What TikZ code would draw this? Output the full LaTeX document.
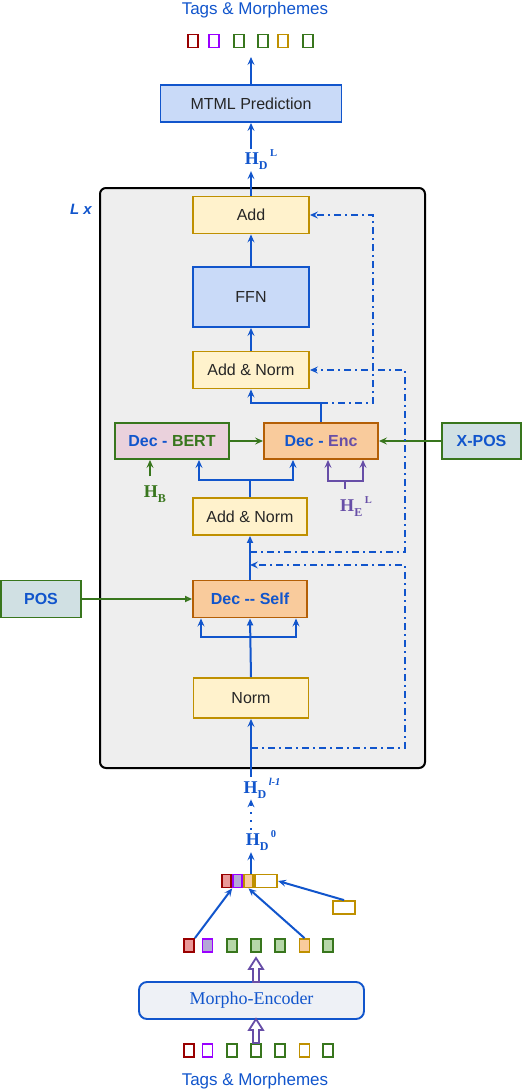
\documentclass[tikz,border=0pt]{standalone}
\usepackage{fontspec}
\setmainfont{Liberation Sans}
\newfontfamily\timesf{Liberation Serif}
\usetikzlibrary{arrows.meta}

\definecolor{dblue}{HTML}{1155CC}
\definecolor{lblue}{HTML}{C9DAF8}
\definecolor{dgreen}{HTML}{38761D}
\definecolor{lgreen}{HTML}{B6D7A8}
\definecolor{dred}{HTML}{990000}
\definecolor{lred}{HTML}{EA9999}
\definecolor{vio}{HTML}{9900FF}
\definecolor{lvio}{HTML}{B4A7D6}
\definecolor{gold}{HTML}{BF9000}
\definecolor{lgold}{HTML}{FFF2CC}
\definecolor{dorange}{HTML}{B45F06}
\definecolor{lorange}{HTML}{F9CB9C}
\definecolor{lpink}{HTML}{EAD1DC}
\definecolor{slate}{HTML}{D0E0E3}
\definecolor{epurple}{HTML}{674EA7}
\definecolor{panel}{HTML}{EEEEEE}
\definecolor{encfill}{HTML}{EEF1F6}

\newcommand{\hlab}[2]{{\timesf\bfseries\fontsize{18}{18}\selectfont H\raisebox{-5pt}{\fontsize{12}{12}\selectfont #1}\hspace{2.5pt}\raisebox{8pt}{\fontsize{10.5}{10.5}\selectfont #2}}}

\begin{document}
\begin{tikzpicture}[x=1pt, y=-1pt,
  every node/.style = {font=\fontsize{16}{19}\selectfont, inner sep=1pt}]
    \tikzstyle{block}=[draw, line width=1.9pt, minimum width=116pt, minimum height=37pt, text=black!85]
    \tikzstyle{normbox}=[block, fill=lgold, draw=gold]
    \tikzstyle{sky}=[block, fill=lblue, draw=dblue]
    \tikzstyle{dec}=[block, fill=lorange, draw=dorange, minimum width=114pt, minimum height=36pt, text=dblue, font=\fontsize{16}{19}\selectfont\bfseries]
    \tikzstyle{tagin}=[dec, fill=slate, draw=dgreen]
    \tikzstyle{sq}=[draw, line width=1.8pt, minimum width=10pt, minimum height=13pt, inner sep=0pt]
    \tikzstyle{arr}=[draw=dblue, line width=2pt, -{Stealth[length=8pt,width=7pt,inset=3pt]}]
    \tikzstyle{garr}=[arr, draw=dgreen]
    \tikzstyle{parr}=[arr, draw=epurple]
    \tikzstyle{tri}=[draw=dblue, line width=2pt, -{Triangle[open,length=7pt,width=6pt]}]
    \tikzstyle{res}=[arr, line width=2pt, dash pattern=on 7pt off 4pt on 2pt off 4pt]
    \tikzstyle{hollow}=[draw=epurple, line width=1.8pt, fill=white, line join=miter]
  \useasboundingbox (0,0) rectangle (526,1090);

  \node[text=dblue, font=\fontsize{17}{20}\selectfont] (tagsout) at (255,10) {Tags \& Morphemes};
  \foreach \x/\c [count=\i] in {193/dred,214/vio,239/dgreen,263/dgreen,283/gold,308/dgreen}
    \node[sq, draw=\c] (top\i) at (\x,41) {};
  \coordinate (outtip) at (251,57);

  \node[sky, minimum width=181pt] (mtml) at (251,103.5) {MTML Prediction};
  \node[text=dblue] (hL) at (261,160) {\hlab{D}{L}};

  \node[draw, line width=2pt, rounded corners=6pt, fill=panel,
        minimum width=325pt, minimum height=580pt] (layer) at (262.5,478) {};
  \node[text=dblue, font=\fontsize{15}{18}\selectfont\bfseries\itshape] (lx) at (81,209) {L x};

  \node[normbox] (add) at (251,215) {Add};
  \node[sky, minimum height=60pt] (ffn) at (251,297) {FFN};
  \node[normbox] (an1) at (251,370) {Add \& Norm};
  \node[dec, fill=lpink, draw=dgreen] (bert) at (172,441) {\textcolor{dblue}{Dec -} \textcolor{dgreen}{BERT}};
  \node[dec] (enc) at (321,441) {\textcolor{dblue}{Dec -} \textcolor{epurple}{Enc}};
  \node[tagin, minimum width=79pt] (xpos) at (481.5,441) {X-POS};
  \node[text=dgreen] (hb) at (155,494) {{\timesf\bfseries\fontsize{18}{18}\selectfont H\raisebox{-5pt}{\fontsize{12}{12}\selectfont B}}};
  \node[text=epurple] (he) at (356,507) {\hlab{E}{L}};
  \node[normbox, minimum width=114pt] (an2) at (250,516.5) {Add \& Norm};
  \node[tagin, minimum width=80pt, minimum height=37pt] (pos) at (41,599) {POS};
  \node[dec, minimum height=37pt] (self) at (250,599) {Dec -{}- Self};
  \node[normbox, minimum width=115pt, minimum height=40pt] (norm) at (251,698) {Norm};

  \node[text=dblue] (hl1) at (262,788) {\hlab{D}{\textit{l-1}}};
  \node[text=dblue] (h0) at (261,841) {\hlab{D}{0}};

  \node[sq, draw=dred, fill=lred, minimum width=9.5pt] (c1) at (226.5,881) {};
  \node[sq, draw=vio, fill=lvio, minimum width=9.5pt] (c2) at (237.5,881) {};
  \node[sq, draw=gold, fill=lorange, minimum width=9.5pt] (c3) at (248.5,881) {};
  \node[sq, draw=gold, fill=white, minimum width=22.5pt] (c4) at (266,881) {};
  \node[sq, draw=gold, fill=white, minimum width=22.5pt] (sep) at (344,907.5) {};
  \foreach \x/\c/\f [count=\i] in {189/dred/lred,207.5/vio/lvio,232/dgreen/lgreen,256/dgreen/lgreen,280/dgreen/lgreen,304.5/gold/lorange,328/dgreen/lgreen}
    \node[sq, draw=\c, fill=\f] (mid\i) at (\x,945.5) {};
  \node[draw=dblue, fill=encfill, rounded corners=8pt, line width=1.9pt, minimum width=225pt,
        minimum height=37pt, text=dblue, font=\timesf\fontsize{18}{21}\selectfont] (morpho) at (251.5,1000.5) {Morpho-Encoder};
  \foreach \x/\c [count=\i] in {189/dred,207.5/vio,232/dgreen,256/dgreen,280/dgreen,304.5/gold,328/dgreen}
    \node[sq, draw=\c] (bot\i) at (\x,1050.5) {};
  \node[text=dblue, font=\fontsize{17}{20}\selectfont] (tagsin) at (255,1081) {Tags \& Morphemes};

  \draw[arr] (mtml.north) -- (outtip);
  \draw[arr] (hL.north -| mtml.south) -- (mtml.south);
  \draw[arr] (add.north) -- (add.north |- hL.south);
  \draw[arr] (ffn.north) -- (add.south);
  \draw[arr] (an1.north) -- (ffn.south);
  \draw[arr] (enc.north) -- ++(0,-19) coordinate (j1) -| (an1.south);
  \draw[res] (j1) -- ++(52,0) |- (add.east);
  \draw[garr] (bert.east) -- (enc.west);
  \draw[garr] (xpos.west) -- (enc.east);
  \draw[garr] ([xshift=-5pt,yshift=8pt]hb.north) -- ([xshift=-22pt]bert.south);
  \draw[arr] (an2.north) -- ++(0,-17) -| ([xshift=27pt]bert.south);
  \draw[arr] (an2.north) -- ++(0,-17) -| ([xshift=-28pt]enc.south);
  \draw[epurple, line width=2pt] ([xshift=-11pt,yshift=7pt]he.north) -- ++(0,-8) coordinate (hej);
  \draw[parr] (hej) -| ([xshift=7pt]enc.south);
  \draw[parr] (hej) -| ([xshift=42pt]enc.south);
  \draw[tri] (self.north) -- (an2.south);
  \draw[tri, draw=dgreen] (pos.east) -- (self.west);
  \draw[tri] (norm.north) -- (self.south);
  \draw[draw=dblue, line width=2pt, {Stealth[length=8pt,width=7pt,inset=3pt]}-{Stealth[length=8pt,width=7pt,inset=3pt]}]
    ([xshift=-49pt]self.south) -- ++(0,19) -- ++(95,0) -- ++(0,-19);
  \draw[res] ([yshift=-16pt]an2.south) -- ++(155,0) |- (an1.east);
  \draw[res] ([yshift=-29pt]norm.south) -- ++(154,0) |- ([yshift=-29pt]an2.south);
  \draw[arr] (hl1.north -| norm.south) -- (norm.south);
  \draw[arr, dash pattern=on 2pt off 6pt] (h0.north -| norm.south) -- (hl1.south -| norm.south);
  \draw[arr] (c3.north -| norm.south) -- (h0.south -| norm.south);
  \draw[arr] (mid1.north east) -- (c1.south east);
  \draw[arr] (mid6.north) -- (c3.south);
  \draw[arr] (sep.north) -- (c4.east);
  \draw[hollow] (253,982) -- (253,969) -- (249,969) -- (256,958) -- (263,969) -- (259,969) -- (259,982) -- cycle;
  \draw[hollow] (253,1043) -- (253,1030) -- (249,1030) -- (256,1019) -- (263,1030) -- (259,1030) -- (259,1043) -- cycle;
\end{tikzpicture}
\end{document}
